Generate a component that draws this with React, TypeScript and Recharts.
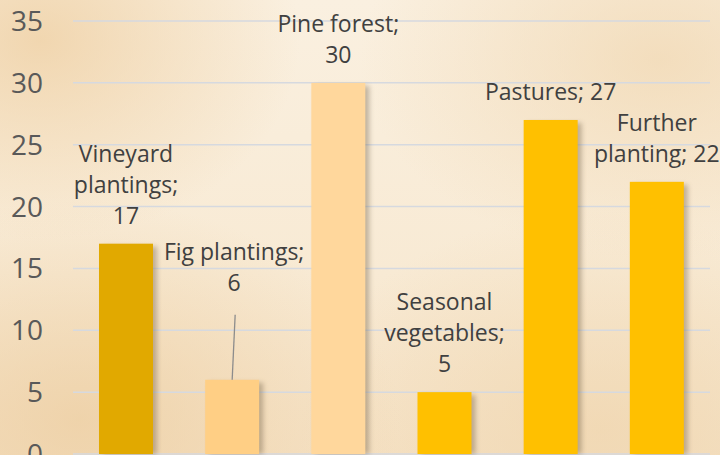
import { BarChart, Bar, XAxis, YAxis, CartesianGrid, Cell, LabelList } from 'recharts';

// land use, hectares
const categories = ['Vineyard plantings', 'Fig plantings', 'Pine forest', 'Seasonal vegetables', 'Pastures', 'Further planting'];
const areas = [17, 6, 30, 5, 27, 22];
const yTicks = [0, 5, 10, 15, 20, 25, 30, 35];

// how each data label wraps: head lines, and whether the value gets its own line
const labelHeads = ['Vineyard\nplantings;', 'Fig plantings;', 'Pine forest;', 'Seasonal\nvegetables;', 'Pastures;', 'Further\nplanting;'];
const valueOwnLine = [true, true, true, true, false, false];

const barColors = ['#E1A900', '#FFCF85', '#FFD79C', '#FFC000', '#FFC000', '#FFC000'];

const data = categories.map((name, i) => ({ name, value: areas[i] }));

const FONT = '"Open Sans", "Liberation Sans", sans-serif';
const LINE_H = 31;
// the fig label is lifted off its bar and joined with a leader line
const LIFTED: Record<number, number> = { 1: 69 };

const ShadowBar = (props: any) => {
    const { x, y, width, height, fill } = props;
    if (!height || height <= 0) return null;
    return (
        <g>
            <rect x={x + 4} y={y + 3} width={width} height={height - 3} fill="#5a4a30" opacity={0.35} filter="url(#barShadow)" />
            <rect x={x} y={y} width={width} height={height} fill={fill} />
        </g>
    );
};

const BarLabel = (props: any) => {
    const { x, y, width, index, value } = props;
    if (index == null) return null;
    const lines = labelHeads[index].split('\n');
    if (valueOwnLine[index]) lines.push(String(value));
    else lines[lines.length - 1] += ' ' + value;
    const cx = x + width / 2;
    const lift = LIFTED[index] || 0;
    const lastBase = y - 20 - lift;
    const firstBase = lastBase - (lines.length - 1) * LINE_H;
    return (
        <g>
            {lift > 0 && (
                <line x1={cx + 3} y1={lastBase + 24} x2={cx} y2={y} stroke="#8c8c8c" strokeWidth={1.3} />
            )}
            <text x={cx + (lift > 0 ? 2 : 0)} y={firstBase} textAnchor="middle" fill="#404040" fontSize={23} fontFamily={FONT}>
                {lines.map((l, i) => (
                    <tspan key={i} x={cx + (lift > 0 ? 2 : 0)} dy={i === 0 ? 0 : LINE_H}>{l}</tspan>
                ))}
            </text>
        </g>
    );
};

export default function App() {
    return (
        <div
            style={{
                position: 'absolute',
                left: 0,
                top: 0,
                width: 720,
                height: 455,
                overflow: 'hidden',
                background:
                    'radial-gradient(ellipse 260px 200px at 40px 40px, rgba(238,206,160,0.75), rgba(238,206,160,0) 100%),' +
                    'radial-gradient(ellipse 300px 200px at 660px 60px, rgba(240,214,175,0.7), rgba(240,214,175,0) 100%),' +
                    'radial-gradient(ellipse 320px 220px at 80px 420px, rgba(236,204,158,0.7), rgba(236,204,158,0) 100%),' +
                    'radial-gradient(ellipse 300px 220px at 600px 430px, rgba(238,210,168,0.6), rgba(238,210,168,0) 100%),' +
                    'linear-gradient(180deg, #FAF0E0 0%, #F8EAD4 60%, #F5E2C6 100%)',
            }}
        >
            <svg width={0} height={0} style={{ position: 'absolute' }}>
                <defs>
                    <filter id="barShadow" x="-20%" y="-20%" width="140%" height="140%">
                        <feGaussianBlur stdDeviation="2.5" />
                    </filter>
                </defs>
            </svg>
            <BarChart width={720} height={455} data={data} margin={{ top: 21, right: 10, left: 0, bottom: 1 }}>
                <CartesianGrid vertical={false} stroke="#D6D9DF" strokeWidth={1.5} />
                <XAxis dataKey="name" hide />
                <YAxis
                    width={73}
                    domain={[0, 35]}
                    ticks={yTicks}
                    interval={0}
                    axisLine={false}
                    tickLine={false}
                    tickSize={0}
                    tickMargin={30}
                    tick={{ fill: '#595959', fontSize: 28, fontFamily: FONT }}
                />
                <Bar dataKey="value" barSize={54} shape={ShadowBar} isAnimationActive={false}>
                    {data.map((d, i) => (
                        <Cell key={d.name} fill={barColors[i]} />
                    ))}
                    <LabelList dataKey="value" content={BarLabel} />
                </Bar>
            </BarChart>
        </div>
    );
}
